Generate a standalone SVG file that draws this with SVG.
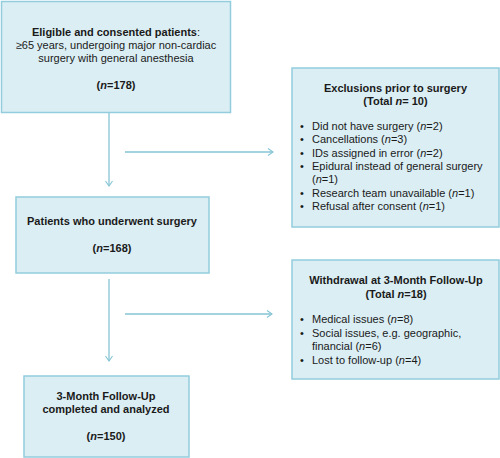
<svg xmlns="http://www.w3.org/2000/svg" width="500" height="458" viewBox="0 0 500 458">
<style>
.box{fill:#DBEEF4;stroke:#93CDDD;stroke-width:1.5}
text{font-family:"Liberation Sans",Arial,sans-serif;font-size:11px;fill:#1a1a1a}
.b{font-weight:bold}
.c{text-anchor:middle}
.i{font-style:italic}
.ln{fill:none;stroke:#86C5D6;stroke-width:1.3}
</style>
<defs>
<marker id="ah" markerWidth="10" markerHeight="10" refX="8" refY="5" orient="auto" markerUnits="userSpaceOnUse">
<polyline points="3,1.5 8,5 3,8.5" fill="none" stroke="#86C5D6" stroke-width="1.1"/>
</marker>
</defs>
<g id="connectors">
<line class="ln" x1="109" y1="113" x2="109" y2="186" marker-end="url(#ah)"/>
<line class="ln" x1="125" y1="152" x2="273" y2="152" marker-end="url(#ah)"/>
<line class="ln" x1="109" y1="279" x2="109" y2="361" marker-end="url(#ah)"/>
<line class="ln" x1="125" y1="314" x2="272" y2="314" marker-end="url(#ah)"/>
</g>
<g id="n1">
<rect class="box" x="1.5" y="1.5" width="229" height="111"/>
<text class="c" x="116" y="36"><tspan class="b">Eligible and consented patients</tspan>:</text>
<text class="c" x="116" y="49">≥65 years, undergoing major non-cardiac</text>
<text class="c" x="116" y="62">surgery with general anesthesia</text>
<text class="c b" x="116" y="89">(<tspan class="i">n</tspan>=178)</text>
</g>
<g id="n2">
<rect class="box" x="292" y="68" width="207" height="159"/>
<text class="c b" x="395.5" y="92">Exclusions prior to surgery</text>
<text class="c b" x="395.5" y="105">(Total <tspan class="i">n</tspan>= 10)</text>
<text x="300" y="130">•</text><text x="312" y="130">Did not have surgery (<tspan class="i">n</tspan>=2)</text>
<text x="300" y="143">•</text><text x="312" y="143">Cancellations (<tspan class="i">n</tspan>=3)</text>
<text x="300" y="157">•</text><text x="312" y="157">IDs assigned in error (<tspan class="i">n</tspan>=2)</text>
<text x="300" y="170">•</text><text x="312" y="170">Epidural instead of general surgery</text>
<text x="312" y="183">(<tspan class="i">n</tspan>=1)</text>
<text x="300" y="197">•</text><text x="312" y="197">Research team unavailable (<tspan class="i">n</tspan>=1)</text>
<text x="300" y="210">•</text><text x="312" y="210">Refusal after consent (<tspan class="i">n</tspan>=1)</text>
</g>
<g id="n3">
<rect class="box" x="16" y="197" width="193" height="76"/>
<text class="c b" x="112" y="225">Patients who underwent surgery</text>
<text class="c b" x="112" y="252">(<tspan class="i">n</tspan>=168)</text>
</g>
<g id="n4">
<rect class="box" x="292" y="260" width="207" height="119"/>
<text class="c b" x="396" y="284">Withdrawal at 3-Month Follow-Up</text>
<text class="c b" x="396" y="298">(Total <tspan class="i">n</tspan>=18)</text>
<text x="300" y="323">•</text><text x="312" y="323">Medical issues (<tspan class="i">n</tspan>=8)</text>
<text x="300" y="337">•</text><text x="312" y="337">Social issues, e.g. geographic,</text>
<text x="312" y="350">financial (<tspan class="i">n</tspan>=6)</text>
<text x="300" y="364">•</text><text x="312" y="364">Lost to follow-up  (<tspan class="i">n</tspan>=4)</text>
</g>
<g id="n5">
<rect class="box" x="24" y="376" width="165" height="81"/>
<text class="c b" x="106" y="400">3-Month Follow-Up</text>
<text class="c b" x="106" y="413">completed and analyzed</text>
<text class="c b" x="106" y="440">(<tspan class="i">n</tspan>=150)</text>
</g>
</svg>
